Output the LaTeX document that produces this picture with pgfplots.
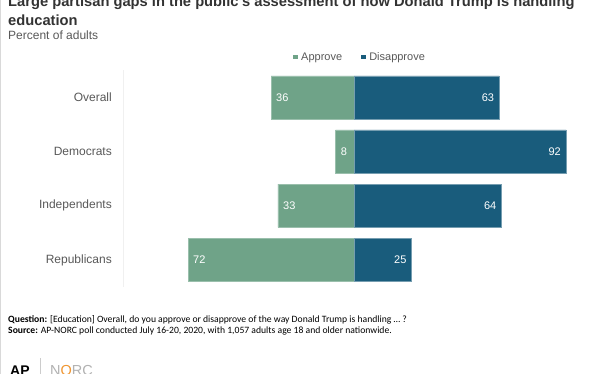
\documentclass[border=0pt]{standalone}
\usepackage{pgfplots}
\pgfplotsset{compat=1.18}
\usepackage{fontspec}
\setmainfont{Liberation Sans}
\newfontfamily\carlito{Carlito}
\definecolor{appgreen}{RGB}{111,163,136}
\definecolor{disblue}{RGB}{25,92,124}
\definecolor{titlegray}{RGB}{51,51,51}
\definecolor{labgray}{RGB}{89,89,89}
\definecolor{orng}{RGB}{240,150,50}
\begin{document}
\begin{tikzpicture}
\useasboundingbox (0pt,-374pt) rectangle (612pt,0pt);
\fill[white] (0pt,-374pt) rectangle (612pt,0pt);
\draw[gray!30, line width=1pt] (0.5pt,-374pt) -- (0.5pt,0pt);
% titles
\node[anchor=base west, inner sep=0pt, font=\fontsize{14.7}{18}\selectfont\bfseries, text=titlegray] at (8pt,-6.8pt) {Large partisan gaps in the public's assessment of how Donald Trump is handling};
\node[anchor=base west, inner sep=0pt, font=\fontsize{14.7}{18}\selectfont\bfseries, text=titlegray] at (8pt,-25.5pt) {education};
\node[anchor=base west, inner sep=0pt, font=\fontsize{12}{14}\selectfont, text=labgray] at (8pt,-40pt) {Percent of adults};
% footer
\node[anchor=base west, inner sep=0pt, font=\carlito\fontsize{9.65}{11}\selectfont] at (8pt,-322.3pt) {\textbf{Question:} [Education] Overall, do you approve or disapprove of the way Donald Trump is handling \dots\ ?};
\node[anchor=base west, inner sep=0pt, font=\carlito\fontsize{9.65}{11}\selectfont] at (8pt,-333.3pt) {\textbf{Source:} AP-NORC poll conducted July 16-20, 2020, with 1,057 adults age 18 and older nationwide.};
\node[anchor=base west, inner sep=0pt, font=\fontsize{14}{16}\selectfont\bfseries] at (10pt,-375pt) {AP};
\draw[gray!40, line width=0.8pt] (40pt,-358pt) -- (40pt,-374pt);
\node[anchor=base west, inner sep=0pt, font=\fontsize{14.5}{16}\selectfont, text=gray!60] at (50pt,-375pt) {N\textcolor{orng}{O}RC};
\begin{axis}[
  at={(123.5pt,-287pt)}, anchor=south west,
  scale only axis, width=461pt, height=216.6pt,
  xmin=-100, xmax=100, ymin=-0.5, ymax=3.5,
  enlargelimits=false, y dir=reverse, clip=false,
  /pgf/number format/assume math mode=true,
  xbar, bar shift=0pt, bar width=0.8,
  axis x line=none, axis y line=left,
  y axis line style={draw=gray!12, -},
  ytick={0,1,2,3},
  yticklabels={Overall,Democrats,Independents,Republicans},
  major tick length=0pt,
  yticklabel style={font=\fontsize{12}{14}\selectfont, text=labgray, inner sep=0pt, xshift=-11.5pt},
  legend columns=2,
  legend style={draw=none, fill=none, at={(0.513,1.062)}, anchor=center,
    font=\fontsize{11}{13}\selectfont, text=labgray,
    /tikz/every odd column/.append style={column sep=1.5pt},
    /tikz/every even column/.append style={column sep=17pt}},
  legend image code/.code={\fill[#1,draw=none] (0pt,-2.3pt) rectangle (4.6pt,2.3pt);},
]
\addplot[fill=appgreen, draw=appgreen!70!white, line width=0.4pt, point meta=explicit,
  nodes near coords={\pgfmathprintnumber{\pgfplotspointmeta}},
  every node near coord/.append style={anchor=west, xshift=5pt, inner sep=0pt, text=white, font=\fontsize{11}{13}\selectfont}]
  coordinates {(-36,0) [36] (-8,1) [8] (-33,2) [33] (-72,3) [72]};
\addlegendentry{Approve}
\addplot[fill=disblue, draw=disblue!60!white, line width=0.4pt, point meta=explicit,
  nodes near coords={\pgfmathprintnumber{\pgfplotspointmeta}},
  every node near coord/.append style={anchor=east, xshift=-5pt, inner sep=0pt, text=white, font=\fontsize{11}{13}\selectfont}]
  coordinates {(63,0) [63] (92,1) [92] (64,2) [64] (25,3) [25]};
\addlegendentry{Disapprove}
\end{axis}
\end{tikzpicture}
\end{document}
